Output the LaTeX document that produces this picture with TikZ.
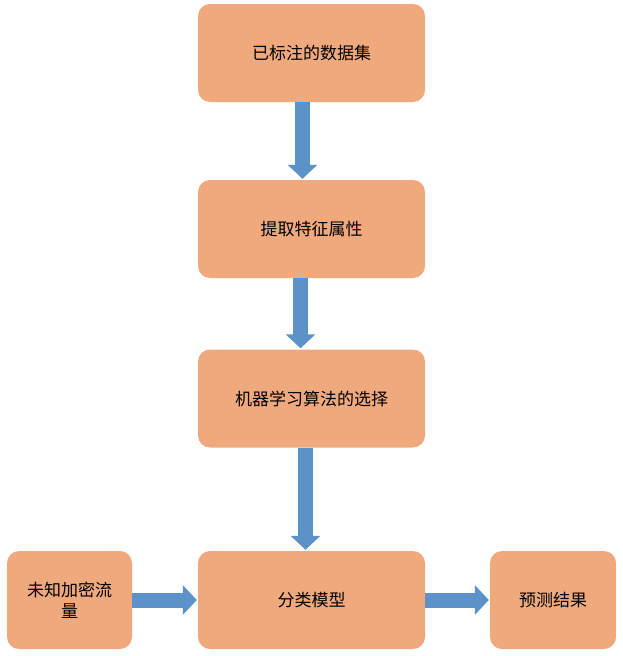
\documentclass[tikz,border=0pt]{standalone}
\usepackage{fontspec}
\setmainfont{Noto Sans CJK SC}
\usetikzlibrary{arrows.meta}
\definecolor{boxc}{HTML}{F0A97D}
\definecolor{arrc}{HTML}{5B93C9}
\begin{document}
\begin{tikzpicture}[x=1pt,y=-1pt,
  box/.style={draw=none,fill=boxc,rounded corners=12pt,minimum width=227pt,minimum height=98pt,font=\fontsize{17pt}{21pt}\selectfont,align=center,inner sep=2pt},
  sbox/.style={box,minimum width=126pt,text width=118pt},
  blk/.style={arrc,line width=15pt,-{Triangle[width=29pt,length=14pt]},shorten >=1pt}]
\useasboundingbox (0,0) rectangle (623,656);
\node[box] (a) at (311.5,53) {已标注的数据集};
\node[box] (b) at (311.5,229) {提取特征属性};
\node[box] (c) at (311.5,398.5) {机器学习算法的选择};
\node[box] (d) at (311.5,600) {分类模型};
\node[sbox,minimum width=125pt,text width=112pt] (l) at (69.5,600) {未知加密流\\量};
\node[sbox,text width=115pt] (r) at (553,600) {预测结果};
\draw[blk] (a.south) ++(-9,0) coordinate (a1) -- (a1 |- b.north);
\draw[blk] (b.south) ++(-11,0) coordinate (b1) -- (b1 |- c.north);
\draw[blk] (c.south) ++(-6,0) coordinate (c1) -- (c1 |- d.north);
\draw[blk] (l.east) -- (d.west);
\draw[blk] (d.east) -- (r.west);
\end{tikzpicture}
\end{document}
